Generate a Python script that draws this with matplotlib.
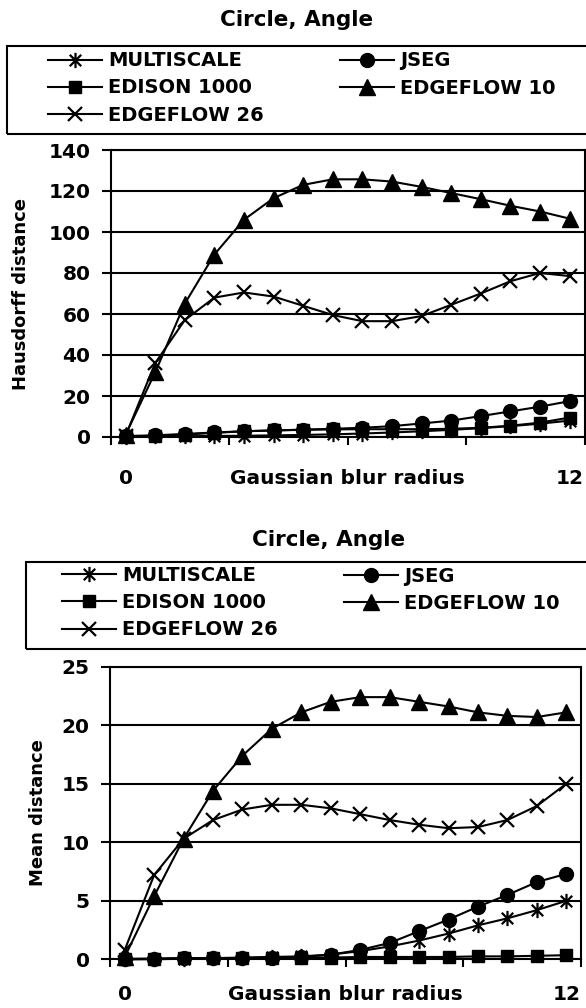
import matplotlib
matplotlib.use("Agg")
import matplotlib.pyplot as plt
from matplotlib.path import Path
from matplotlib.patches import Rectangle

plt.rcParams['font.family'] = ['DejaVu Sans']
plt.rcParams['font.weight'] = 'bold'
plt.rcParams['axes.labelweight'] = 'bold'

# categories: 16 blur radii, only first and last labelled
n_radii = 16
radius_labels = ["0", "12"]
series_names = ["MULTISCALE", "JSEG", "EDISON 1000", "EDGEFLOW 10", "EDGEFLOW 26"]

# top panel: Hausdorff distance
haus_multiscale = [0.2, 0.3, 0.4, 0.5, 0.6, 0.8, 1.0, 1.3, 1.7, 2.2, 2.8, 3.5, 4.3, 5.3, 6.5, 8.0]
haus_jseg = [0.5, 0.8, 1.5, 2.2, 2.8, 3.2, 3.6, 4.0, 4.5, 5.3, 6.6, 8.0, 10.2, 12.5, 14.8, 17.5]
haus_edison = [0.3, 0.6, 1.2, 2.0, 2.8, 3.2, 3.5, 3.7, 3.8, 3.8, 3.8, 4.0, 4.5, 5.5, 7.0, 9.5]
haus_edgeflow10 = [1.0, 31.5, 65.0, 89.0, 106.0, 116.5, 123.0, 125.7, 125.7, 124.6, 122.0, 119.0, 116.0, 112.8, 110.0, 106.5]
haus_edgeflow26 = [0.5, 36.0, 57.0, 68.0, 70.5, 68.5, 64.0, 59.5, 56.5, 56.5, 59.0, 64.5, 70.0, 76.0, 80.0, 78.5]

# bottom panel: mean distance
mean_multiscale = [0.0, 0.0, 0.05, 0.1, 0.15, 0.2, 0.25, 0.4, 0.7, 1.1, 1.6, 2.2, 2.9, 3.5, 4.2, 5.0]
mean_jseg = [0.0, 0.05, 0.1, 0.1, 0.1, 0.15, 0.2, 0.4, 0.8, 1.4, 2.4, 3.4, 4.5, 5.5, 6.6, 7.3]
mean_edison = [0.05, 0.05, 0.1, 0.1, 0.1, 0.15, 0.15, 0.15, 0.2, 0.2, 0.2, 0.2, 0.25, 0.25, 0.3, 0.35]
mean_edgeflow10 = [0.2, 5.4, 10.3, 14.4, 17.4, 19.7, 21.1, 22.0, 22.4, 22.4, 22.0, 21.6, 21.1, 20.8, 20.7, 21.1]
mean_edgeflow26 = [0.8, 7.2, 10.3, 11.9, 12.8, 13.2, 13.2, 12.9, 12.4, 11.9, 11.5, 11.2, 11.3, 11.9, 13.1, 15.0]

W, H = 586, 1008

# excel style asterisk: an x with a vertical bar
asterisk = Path([(-0.75, -0.75), (0.75, 0.75), (-0.75, 0.75), (0.75, -0.75), (0, -1), (0, 1)],
                [Path.MOVETO, Path.LINETO] * 3)
styles = [
    dict(marker=asterisk, ms=11, mew=1.6, mfc='none'),
    dict(marker='o', ms=10),
    dict(marker='s', ms=9),
    dict(marker='^', ms=11),
    dict(marker='x', ms=10, mew=1.6),
]

fig = plt.figure(figsize=(W / 100, H / 100), dpi=100)


def px_box(x0, y0, x1, y1):
    return [x0 / W, 1 - y1 / H, (x1 - x0) / W, (y1 - y0) / H]


def panel(axbox, values, ymax, ystep, ylabel, title_xy, legbox, leg_x, rows, ylab_x, xlab_gap):
    ax = fig.add_axes(px_box(*axbox))
    x = range(n_radii)
    handles = []
    for vals, st in zip(values, styles):
        st = dict(st)
        h, = ax.plot(x, vals, color='black', lw=1.5, mec='black', mfc=st.pop('mfc', 'black'),
                     clip_on=False, zorder=3, **st)
        handles.append(h)

    ax.set_xlim(-0.5, n_radii - 0.5)
    ax.set_ylim(0, ymax)
    ax.set_yticks(range(0, ymax + 1, ystep))
    ax.yaxis.grid(True, color='black', lw=1.5)
    ax.set_axisbelow(True)
    for s in ax.spines.values():
        s.set_linewidth(1.5)
    ax.tick_params(axis='y', direction='out', length=6.5, width=1.5, pad=8, labelsize=14.5)

    ax.set_xticks([0, n_radii - 1], radius_labels)
    ax.set_xticks([-0.5, 3.5, 7.5, 11.5, 15.5], minor=True)
    ax.tick_params(axis='x', which='major', length=0, pad=xlab_gap * 0.72, labelsize=14.5)
    ax.tick_params(axis='x', which='minor', direction='out', length=6, width=1.5)
    for lab in ax.get_xticklabels():
        lab.set_va('center')

    axh = axbox[3] - axbox[1]
    ax.set_xlabel("Gaussian blur radius", fontsize=14.5, fontweight='bold', va='center')
    ax.xaxis.set_label_coords(0.5, -xlab_gap / axh)

    fig.text(ylab_x / W, 1 - (axbox[1] + axbox[3]) / 2 / H, ylabel, rotation=90,
             ha='center', va='center', fontsize=13)
    fig.text(title_xy[0] / W, 1 - title_xy[1] / H, "Circle, Angle", ha='center', va='center',
             fontsize=15.5)

    fig.patches.append(Rectangle((legbox[0] / W, 1 - legbox[3] / H), (620 - legbox[0]) / W,
                                 (legbox[3] - legbox[1]) / H, transform=fig.transFigure,
                                 fill=False, ec='black', lw=1.5, clip_on=False))

    common = dict(loc='center left', bbox_transform=fig.transFigure, frameon=False, borderpad=0,
                  borderaxespad=0, handlelength=2.8, handletextpad=0.3, labelspacing=0.42,
                  fontsize=14, numpoints=1)
    fig.legend([handles[0], handles[2], handles[4]],
               [series_names[0], series_names[2], series_names[4]],
               bbox_to_anchor=(leg_x[0] / W, 1 - rows[1] / H), **common)
    fig.legend([handles[1], handles[3]], [series_names[1], series_names[3]],
               bbox_to_anchor=(leg_x[1] / W, 1 - (rows[0] + rows[1]) / 2 / H), **common)


panel((110.7, 150, 584.5, 437),
      [haus_multiscale, haus_jseg, haus_edison, haus_edgeflow10, haus_edgeflow26],
      140, 20, "Hausdorff distance", (297, 20), (7, 45.7, 0, 134), (48, 340), (61, 88, 115), 21, 41)

panel((110, 666.7, 581, 959.3),
      [mean_multiscale, mean_jseg, mean_edison, mean_edgeflow10, mean_edgeflow26],
      25, 5, "Mean distance", (329, 540), (25.7, 561.7, 0, 649), (62, 344), (576.7, 602.7, 629), 38, 35.7)

fig.savefig("out.png", dpi=100)
